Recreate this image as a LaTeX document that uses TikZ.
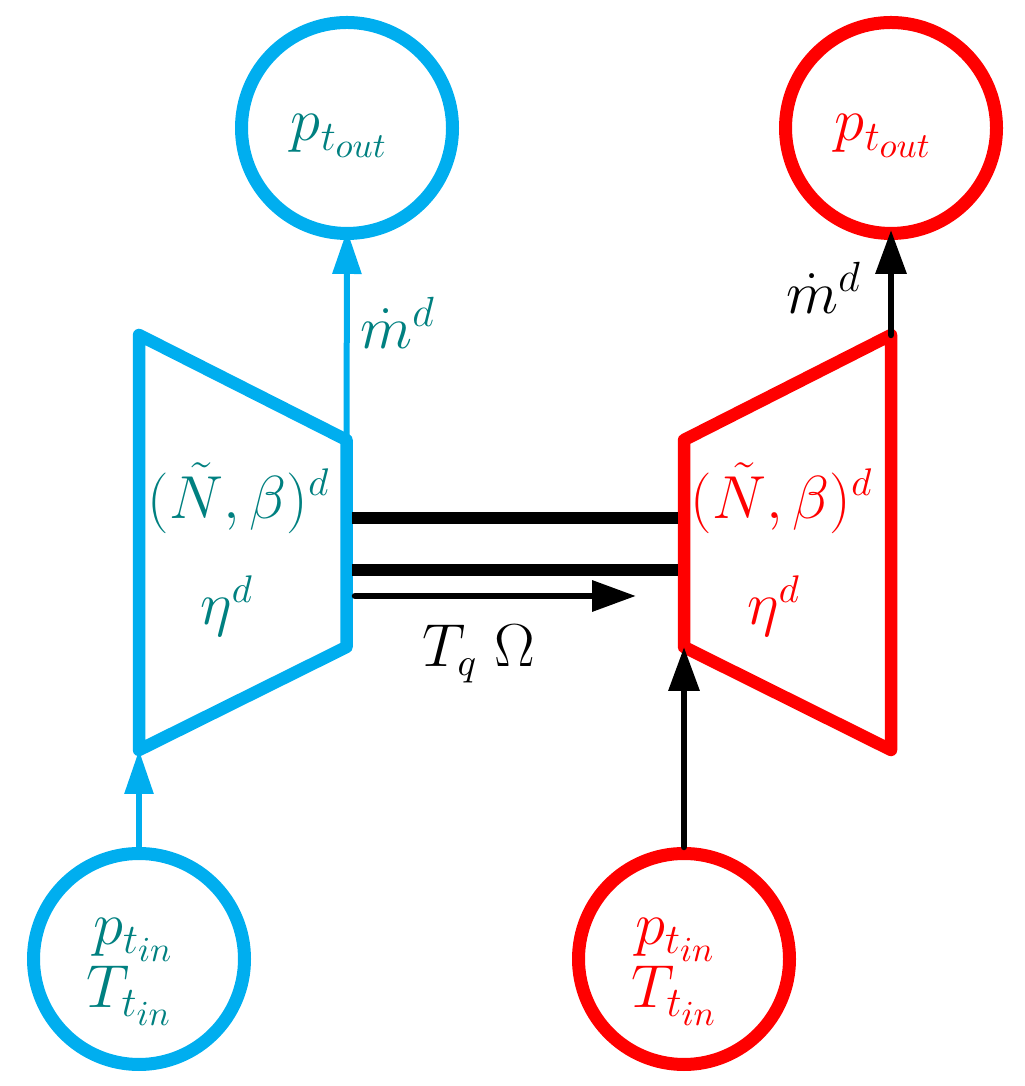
\documentclass[tikz,border=0pt]{standalone}
\usepackage{amsmath}
\usetikzlibrary{arrows.meta}
\definecolor{cblue}{RGB}{0,174,239}
\definecolor{tealtxt}{RGB}{0,128,128}
\tikzset{
  portcirc/.style={circle,draw,line width=1.3mm,minimum size=2.11cm,inner sep=0pt},
  turbo/.style={line width=1.25mm,line join=round,line cap=round},
  flowblue/.style={line width=0.6mm,line cap=round,cblue,-{Triangle[length=4.4mm,width=2.8mm]}},
  flowblack/.style={line width=0.65mm,line cap=round,-{Triangle[length=4.4mm,width=3mm]}},
  shaft/.style={line width=1.2mm},
  lbl/.style={font=\LARGE,inner sep=0pt},
  lblb/.style={font=\fontsize{16}{19}\selectfont,inner sep=0pt}
}
\begin{document}
\begin{tikzpicture}
	\useasboundingbox (0,0) rectangle (10.24,10.86);

	% blue side
	\node[portcirc,draw=cblue] (outL) at (3.47,9.58) {};
	\node[portcirc,draw=cblue] (inL) at (1.39,1.27) {};
	\coordinate (la) at (1.39,7.51);
	\coordinate (lb) at (3.465,6.46);
	\coordinate (lc) at (3.465,4.39);
	\coordinate (ld) at (1.39,3.36);
	\draw[turbo,cblue] (la) -- (lb) -- (lc) -- (ld) -- cycle;
	\draw[flowblue,shorten >=-1mm] (lb) -- (outL.south);
	\draw[flowblue] (inL.north) -- (ld);
	\node[lbl,text=tealtxt] (poL) at (3.40,9.50) {$p_{t_{out}}$};
	\node[lbl,text=tealtxt] (piL) at (1.34,1.46) {$p_{t_{in}}$};
	\node[lbl,text=tealtxt] (TiL) at (1.30,0.90) {$T_{t_{in}}$};
	\node[lbl,text=tealtxt] (mL) at (3.98,7.63) {$\dot m^{d}$};
	\node[lblb,text=tealtxt] (gL) at (2.39,5.88) {$(\tilde N,\beta)^{d}$};
	\node[lblb,text=tealtxt] (eL) at (2.27,4.80) {$\eta^{d}$};

	% red side
	\node[portcirc,draw=red] (outR) at (8.91,9.58) {};
	\node[portcirc,draw=red] (inR) at (6.84,1.27) {};
	\coordinate (ra) at (8.91,7.51);
	\coordinate (rb) at (6.84,6.46);
	\coordinate (rc) at (6.84,4.39);
	\coordinate (rd) at (8.91,3.36);
	\draw[turbo,red] (ra) -- (rb) -- (rc) -- (rd) -- cycle;
	\draw[flowblack,shorten >=-1mm] (ra) -- (outR.south);
	\draw[flowblack] (inR.north) -- (rc);
	\node[lbl,text=red] (poR) at (8.84,9.50) {$p_{t_{out}}$};
	\node[lbl,text=red] (piR) at (6.76,1.46) {$p_{t_{in}}$};
	\node[lbl,text=red] (TiR) at (6.75,0.90) {$T_{t_{in}}$};
	\node[lbl] (mR) at (8.24,7.98) {$\dot m^{d}$};
	\node[lblb,text=red] (gR) at (7.82,5.88) {$(\tilde N,\beta)^{d}$};
	\node[lblb,text=red] (eR) at (7.74,4.80) {$\eta^{d}$};

	% shaft
	\draw[shaft] (3.52,5.68) -- (6.78,5.68);
	\draw[shaft] (3.52,5.16) -- (6.78,5.16);
	\coordinate (tqs) at (3.55,4.90);
	\coordinate (tqe) at (6.36,4.90);
	\draw[flowblack] (tqs) -- (tqe);
	\node[lblb] (tq) at (4.79,4.32) {$T_{q}\ \Omega$};
\end{tikzpicture}
\end{document}
